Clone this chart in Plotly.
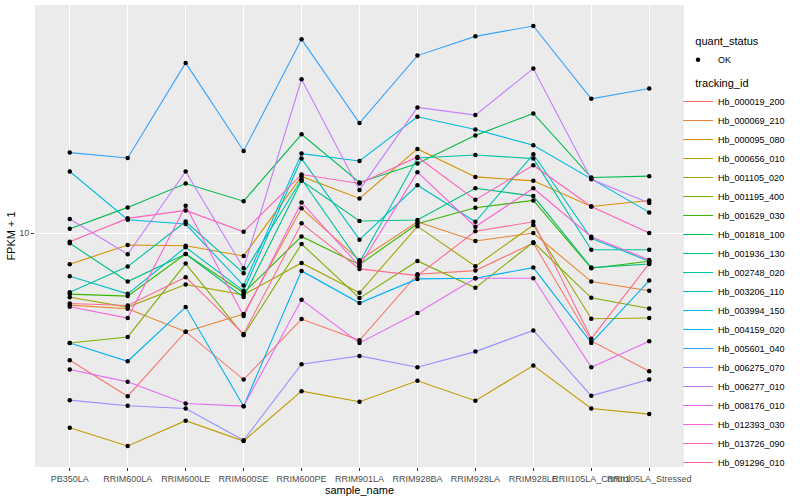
import math
import plotly.graph_objects as go

samples = ["PB350LA", "RRIM600LA", "RRIM600LE", "RRIM600SE", "RRIM600PE", "RRIM901LA",
           "RRIM928BA", "RRIM928LA", "RRIM928LE", "RRII105LA_Control", "RRII105LA_Stressed"]

# FPKM + 1 values per tracking_id (log scale)
Hb_000019_200 = [3.761, 2.853, 4.689, 3.243, 5.168, 4.386, 7.300, 7.505, 9.282, 4.366, 3.457]
Hb_000069_210 = [5.754, 5.593, 4.688, 5.370, 12.12, 8.128, 10.93, 9.426, 10.02, 6.896, 6.422]
Hb_000095_080 = [7.882, 9.141, 9.092, 8.401, 15.49, 13.08, 19.15, 15.44, 14.98, 12.30, 12.88]
Hb_000656_010 = [2.238, 1.944, 2.362, 2.020, 2.965, 2.733, 3.211, 2.754, 3.611, 2.596, 2.485]
Hb_001105_020 = [6.110, 5.667, 6.740, 6.228, 7.961, 6.325, 10.55, 7.762, 10.66, 5.180, 5.208]
Hb_001195_400 = [4.299, 4.502, 7.919, 4.557, 9.211, 6.072, 8.085, 6.571, 9.332, 6.086, 5.606]
Hb_001629_030 = [6.262, 6.166, 8.531, 6.325, 9.757, 7.858, 10.76, 12.17, 12.88, 7.644, 8.066]
Hb_001818_100 = [10.36, 12.21, 14.68, 12.81, 21.43, 14.79, 17.11, 21.26, 25.18, 15.37, 15.53]
Hb_001936_130 = [9.261, 6.896, 8.531, 6.119, 14.98, 10.99, 11.08, 14.15, 13.32, 7.679, 7.900]
Hb_002748_020 = [6.358, 7.738, 10.95, 7.356, 15.17, 8.004, 17.86, 18.28, 17.78, 8.816, 8.816]
Hb_003206_110 = [7.188, 6.276, 8.981, 6.422, 17.78, 9.521, 14.48, 10.93, 18.38, 9.623, 8.066]
Hb_003994_150 = [16.10, 11.10, 10.74, 6.688, 18.48, 17.46, 24.54, 22.26, 19.70, 15.25, 11.75]
Hb_004159_020 = [4.299, 3.733, 5.667, 2.642, 7.487, 5.843, 7.041, 7.079, 7.679, 4.299, 6.950]
Hb_005601_040 = [18.62, 17.86, 37.15, 18.85, 44.54, 23.37, 39.30, 45.57, 49.36, 28.18, 30.51]
Hb_006275_070 = [2.767, 2.650, 2.596, 2.031, 3.648, 3.890, 3.564, 4.021, 4.735, 2.862, 3.243]
Hb_006277_010 = [11.16, 8.511, 16.10, 7.644, 32.76, 13.97, 26.37, 24.85, 35.57, 15.17, 12.62]
Hb_008176_010 = [3.502, 3.186, 2.697, 2.642, 5.993, 4.299, 5.412, 7.079, 7.079, 3.564, 4.352]
Hb_012393_030 = [5.679, 5.208, 12.36, 5.289, 12.69, 7.762, 16.01, 10.52, 14.15, 9.742, 8.147]
Hb_013726_090 = [9.375, 11.22, 11.93, 10.12, 15.73, 14.68, 18.00, 12.94, 16.89, 12.30, 10.02]
Hb_091296_010 = [5.825, 5.736, 7.134, 4.606, 10.80, 7.603, 7.221, 10.155, 10.93, 4.443, 7.919]

tracking_ids = ["Hb_000019_200", "Hb_000069_210", "Hb_000095_080", "Hb_000656_010",
                "Hb_001105_020", "Hb_001195_400", "Hb_001629_030", "Hb_001818_100",
                "Hb_001936_130", "Hb_002748_020", "Hb_003206_110", "Hb_003994_150",
                "Hb_004159_020", "Hb_005601_040", "Hb_006275_070", "Hb_006277_010",
                "Hb_008176_010", "Hb_012393_030", "Hb_013726_090", "Hb_091296_010"]
series = [Hb_000019_200, Hb_000069_210, Hb_000095_080, Hb_000656_010, Hb_001105_020,
          Hb_001195_400, Hb_001629_030, Hb_001818_100, Hb_001936_130, Hb_002748_020,
          Hb_003206_110, Hb_003994_150, Hb_004159_020, Hb_005601_040, Hb_006275_070,
          Hb_006277_010, Hb_008176_010, Hb_012393_030, Hb_013726_090, Hb_091296_010]
colors = ["#F8766D", "#EA8331", "#D89000", "#C09B00", "#A3A500", "#7CAE00", "#39B600",
          "#00BB4E", "#00BF7D", "#00C1A3", "#00BFC4", "#00BAE0", "#00B0F6", "#35A2FF",
          "#9590FF", "#C77CFF", "#E76BF3", "#FA62DB", "#FF62BC", "#FF6C91"]
quant_status = "OK"

FONT = "Liberation Sans, Arial, Helvetica, sans-serif"
PAD = "\u00a0" * 5

fig = go.Figure()
for name, vals, col in zip(tracking_ids, series, colors):
    fig.add_trace(go.Scatter(x=samples, y=vals, mode="lines", name=name,
                             line=dict(color=col, width=1.1), legend="legend2"))

all_x = [s for vals in series for s in samples]
all_y = [v for vals in series for v in vals]
fig.add_trace(go.Scatter(x=all_x, y=all_y, mode="markers", name=quant_status,
                         marker=dict(color="black", size=4.5), legend="legend"))

ymin = min(all_y)
ymax = max(all_y)
lo, hi = math.log10(ymin), math.log10(ymax)
pad = 0.05 * (hi - lo)

axis_common = dict(showgrid=True, gridcolor="white", gridwidth=1.1, zeroline=False,
                   showline=False, ticks="outside", ticklen=3, tickwidth=1.1,
                   tickcolor="#333333", tickfont=dict(family=FONT, size=9, color="#4D4D4D"),
                   automargin=False)

fig.update_layout(
    width=800, height=500,
    margin=dict(l=35, r=116, t=5, b=33),
    paper_bgcolor="white", plot_bgcolor="#EBEBEB",
    font=dict(family=FONT, size=9, color="black"),
    xaxis=dict(type="category", categoryorder="array", categoryarray=samples,
               range=[-0.6, len(samples) - 0.4], tickangle=0,
               title=dict(text="sample_name", font=dict(family=FONT, size=11, color="black"),
                          standoff=0),
               **axis_common),
    yaxis=dict(type="log", range=[lo - pad, hi + pad], tickvals=[10], ticktext=["10"],
               title=dict(text="FPKM + 1", font=dict(family=FONT, size=11, color="black"),
                          standoff=1),
               **axis_common),
    legend=dict(title=dict(text=PAD + "quant_status", font=dict(family=FONT, size=11, color="black")),
                x=0.9908, xanchor="left", y=0.9437, yanchor="top",
                font=dict(family=FONT, size=9, color="black"), bgcolor="rgba(0,0,0,0)"),
    legend2=dict(title=dict(text=PAD + "tracking_id", font=dict(family=FONT, size=11, color="black")),
                 x=0.9908, xanchor="left", y=0.8535, yanchor="top",
                 font=dict(family=FONT, size=9, color="black"), bgcolor="rgba(0,0,0,0)"),
    showlegend=True,
)

fig.write_html("out.html", config={"displayModeBar": False},
               post_script="document.body.style.margin='0px';")
